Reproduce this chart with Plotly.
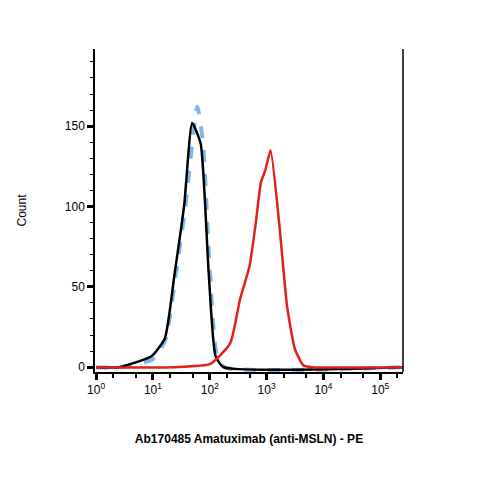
import plotly.graph_objects as go

black_x = [0.0, 0.4, 0.98, 1.21, 1.38, 1.55, 1.69, 1.84, 1.98, 2.10, 2.24, 5.4]
black_y = [0, 0, 7, 18, 58, 101, 152, 139, 59, 7, 0, 0]
blue_x = [0.0, 0.45, 1.0, 1.22, 1.40, 1.57, 1.78, 1.88, 2.00, 2.12, 2.26, 5.4]
blue_y = [0, 0, 5, 17, 57, 100, 162, 140, 60, 8, 0, 0]
red_x = [0.0, 1.38, 2.01, 2.36, 2.53, 2.70, 2.81, 2.90, 2.98, 3.07, 3.22, 3.36, 3.50, 3.65, 3.8, 5.4]
red_y = [0, 0, 2, 15, 42, 63, 90, 115, 123, 135, 90, 38, 11, 1, 0, 0]

fig = go.Figure()
def tr(xs, ys, color, dash, width):
    fig.add_trace(go.Scatter(x=[10**v for v in xs], y=ys, mode="lines",
                             line=dict(color=color, dash=dash, width=width, shape="spline", smoothing=0.5)))
tr(blue_x, blue_y, "#7fb8e8", "dash", 4)
tr(black_x, black_y, "black", "solid", 2.5)
tr(red_x, red_y, "#e0201b", "solid", 2.5)

fig.update_layout(
    width=479, height=479, showlegend=False, plot_bgcolor="white", paper_bgcolor="white",
    margin=dict(l=85, r=84, t=41, b=115),
    font=dict(family="Liberation Sans, Arial", size=12, color="black"),
    xaxis=dict(type="log", range=[-0.02, 5.4], showgrid=False, zeroline=False,
               showline=True, linecolor="black", linewidth=1.5, mirror=False,
               tickvals=[1, 10, 100, 1000, 10000, 100000],
               ticktext=["10<sup>0</sup>", "10<sup>1</sup>", "10<sup>2</sup>", "10<sup>3</sup>", "10<sup>4</sup>", "10<sup>5</sup>"],
               ticks="outside", ticklen=6, tickwidth=3, tickcolor="black",
               minor=dict(ticks="outside", ticklen=4, tickwidth=1.5, tickcolor="black", dtick="D2"),
               title=dict(text="<b>Ab170485 Amatuximab (anti-MSLN) - PE</b>", font=dict(size=12), standoff=38)),
    yaxis=dict(range=[-3, 198], showgrid=False, zeroline=False,
               showline=True, linecolor="black", linewidth=1.5,
               tickvals=[0, 50, 100, 150], ticks="outside", ticklen=6, tickwidth=2.5, tickcolor="black",
               minor=dict(ticks="outside", ticklen=3, tickwidth=1, tickcolor="black", dtick=10),
               title=dict(text="Count", font=dict(size=12), standoff=36)),
)
fig.add_shape(type="line", xref="paper", yref="paper", x0=1, x1=1, y0=0, y1=1,
              line=dict(color="black", width=1.5))
fig.write_html("out.html")
